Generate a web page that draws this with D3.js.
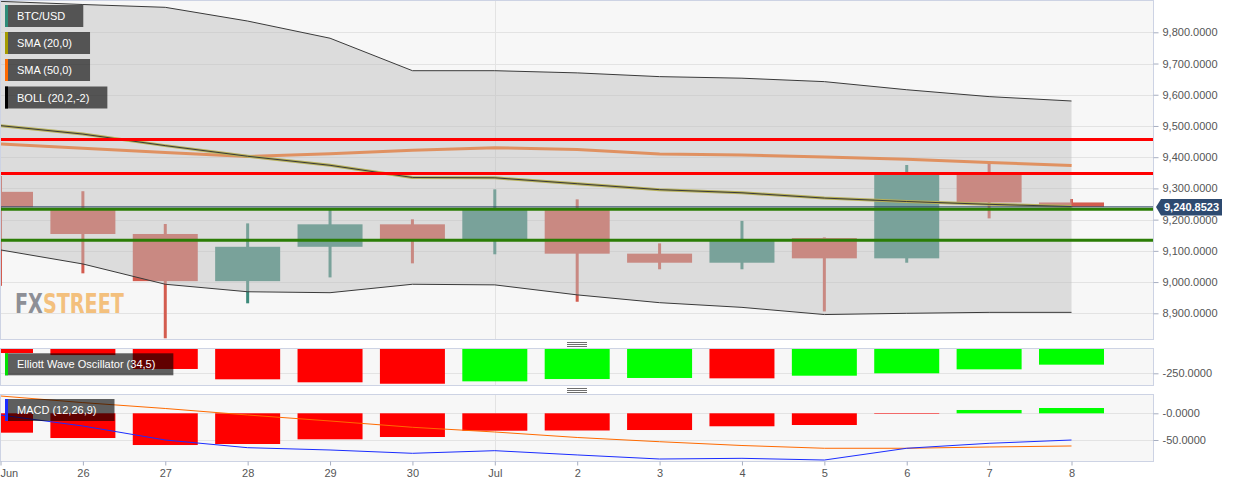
<!DOCTYPE html>
<html lang="en">
<head>
<meta charset="UTF-8">
<script src="https://d3js.org/d3.v7.min.js"></script>
<style>
  body { margin: 0; background: #fff; }
  svg text { font-family: "Liberation Sans", Arial, sans-serif; }
  .axis text { font-size: 11px; fill: #555; }
  .axis path { display: none; }
  .axis line { stroke: #a7aec0; }
  .grid line { stroke: #e3e3e3; }
</style>
<title>BTC/USD</title>
</head>
<body>
<svg width="1244" height="487"></svg>
<script>
// days on the x axis
const dayLabels = ['Jun', '26', '27', '28', '29', '30', 'Jul', '2', '3', '4', '5', '6', '7', '8'];

// daily candles
const openVals  = [9289, 9231, 9154, 9003, 9113, 9185, 9138, 9235, 9091, 9062, 9141, 9076, 9345, 9255];
const highVals  = [9340, 9291, 9186, 9188, 9237, 9201, 9297, 9265, 9124, 9196, 9143, 9375, 9382, 9266];
const lowVals   = [8988, 9028, 8820, 8932, 9015, 9060, 9089, 8937, 9041, 9041, 8906, 9062, 9204, 9240];
const closeVals = [9240, 9154, 9003, 9113, 9185, 9138, 9235, 9091, 9062, 9138, 9076, 9345, 9255, 9240.8523];

// overlays
const sma20 = [9501, 9474, 9437, 9403, 9374, 9335, 9334, 9315, 9296, 9286, 9269, 9258, 9249, 9242];
const sma50 = [9442, 9429, 9415, 9402, 9411, 9422, 9430, 9425, 9410, 9407, 9401, 9393, 9383, 9373];
const bollUpper = [9899, 9889, 9880, 9836, 9781, 9677, 9677, 9670, 9658, 9653, 9642, 9616, 9594, 9580];
const bollLower = [9103, 9058, 8993, 8969, 8966, 8993, 8991, 8959, 8934, 8919, 8896, 8900, 8903, 8903];

// horizontal levels
const resistanceLevels = [9457, 9348];
const supportLevels = [9233, 9134];
const lastPrice = 9240.8523;

// indicators
const ewo = [-81, -98, -214, -300, -325, -337, -317, -298, -289, -292, -270, -250, -217, -178];
const macdHist = [-36.3, -46.3, -59.4, -57.5, -48.7, -44.4, -32.6, -32.2, -31.3, -24.3, -21.9, -1, 6.2, 9.9];
const macdLine = [-3.2, -23.8, -50, -64.4, -68.7, -74.9, -70, -78, -85.6, -84.3, -87.5, -65.5, -56.2, -50];
const macdSignal = [32.4, 20, 9, -3.2, -14.4, -26.2, -35, -45.3, -53.2, -60.3, -65.5, -65.5, -63.1, -61.2];

// axis ticks
const mainTicks = [8900, 9000, 9100, 9200, 9300, 9400, 9500, 9600, 9700, 9800];
const ewoTicks = [-250];
const ewoTickLabels = ['-250.0000'];
const macdTicks = [0, -50];
const macdTickLabels = ['-0.0000', '-50.0000'];

const svg = d3.select('svg');
const right = 1153.5;
const panels = {
    main: { top: 0.5, bottom: 339.5 },
    ewo: { top: 348.5, bottom: 385.5 },
    macd: { top: 394.5, bottom: 461.5 }
};

const x = d3.scalePoint().domain(dayLabels).range([0.5, 1071.5]);
const yMain = d3.scaleLinear().domain([8900, 9800]).range([313.3, 32.3]);
const yEwo = d3.scaleLinear().domain([-250, 0]).range([373.3, 343.3]);
const yMacd = d3.scaleLinear().domain([-50, 0]).range([440, 413.3]);

const red = '#d35c4f', teal = '#3d8a7b';
const defs = svg.append('defs');

// panel backgrounds + clip paths
Object.entries(panels).forEach(([name, p]) => {
    svg.append('rect')
        .attr('x', 0.5).attr('y', p.top)
        .attr('width', right - 0.5).attr('height', p.bottom - p.top)
        .attr('fill', '#f7f7f7');
    defs.append('clipPath').attr('id', 'clip-' + name)
        .append('rect')
        .attr('x', 1).attr('y', p.top + 0.5)
        .attr('width', right - 1.5).attr('height', p.bottom - p.top - 1);
});

function panelGroup(name) {
    return svg.append('g').attr('clip-path', `url(#clip-${name})`);
}

// grid lines
function hGrid(g, ticks, scale) {
    g.append('g').attr('class', 'grid')
        .selectAll('line').data(ticks).enter().append('line')
        .attr('x1', 0).attr('x2', right)
        .attr('y1', d => Math.round(scale(d)) + 0.5)
        .attr('y2', d => Math.round(scale(d)) + 0.5);
}
function vGrid(g, p) {
    g.append('line')
        .attr('x1', Math.round(x('Jul')) + 0.5).attr('x2', Math.round(x('Jul')) + 0.5)
        .attr('y1', p.top).attr('y2', p.bottom)
        .attr('stroke', '#e3e3e3');
}

// ---------- main panel ----------
const gMain = panelGroup('main');
hGrid(gMain, mainTicks, yMain);
vGrid(gMain, panels.main);

// watermark: natural width text, stretched to size with a transform
const wm = gMain.append('text')
    .style('font', 'bold 22px "DejaVu Sans Condensed", sans-serif');
wm.append('tspan').attr('fill', '#8d8f96').text('FX');
wm.append('tspan').attr('fill', '#f3c07d').text('STREET');
const wmLen = wm.node().getComputedTextLength();
wm.attr('transform', `translate(15,312.5) scale(${109 / wmLen},${26 / 22})`);

const candles = dayLabels.map((d, i) => ({
    day: d, open: openVals[i], high: highVals[i], low: lowVals[i], close: closeVals[i]
}));

gMain.selectAll('.wick').data(candles).enter().append('rect')
    .attr('class', 'wick')
    .attr('x', d => x(d.day) - 1.5).attr('width', 3)
    .attr('y', d => yMain(d.high))
    .attr('height', d => yMain(d.low) - yMain(d.high))
    .attr('fill', d => d.close >= d.open ? teal : red);

gMain.selectAll('.body').data(candles).enter().append('rect')
    .attr('class', 'body')
    .attr('x', d => x(d.day) - 32.5).attr('width', 65)
    .attr('y', d => yMain(Math.max(d.open, d.close)))
    .attr('height', d => Math.max(1, Math.abs(yMain(d.open) - yMain(d.close))))
    .attr('fill', d => d.close >= d.open ? teal : red);

const lineOf = (vals, scale) => d3.line().x((v, i) => x(dayLabels[i])).y(v => scale(v))(vals);

gMain.append('path').attr('d', lineOf(sma50, yMain))
    .attr('fill', 'none').attr('stroke', '#ff6a10').attr('stroke-width', 3);
gMain.append('path').attr('d', lineOf(sma20, yMain))
    .attr('fill', 'none').attr('stroke', '#b0a400').attr('stroke-width', 3);

// bollinger band overlay
const band = d3.area()
    .x((v, i) => x(dayLabels[i]))
    .y0((v, i) => yMain(bollLower[i]))
    .y1((v, i) => yMain(bollUpper[i]));
gMain.append('path').attr('d', band(bollUpper))
    .attr('fill', 'rgb(190,190,190)').attr('fill-opacity', 0.47);
[bollUpper, bollLower, sma20].forEach(vals => {
    gMain.append('path').attr('d', lineOf(vals, yMain))
        .attr('fill', 'none').attr('stroke', '#3a3a3a').attr('stroke-width', 1);
});

// last price line
gMain.append('line')
    .attr('x1', 0).attr('x2', right)
    .attr('y1', yMain(lastPrice)).attr('y2', yMain(lastPrice))
    .attr('stroke', '#2c4468');

// support / resistance
gMain.selectAll('.res').data(resistanceLevels).enter().append('line')
    .attr('x1', 0).attr('x2', right)
    .attr('y1', d => yMain(d)).attr('y2', d => yMain(d))
    .attr('stroke', '#ff0000').attr('stroke-width', 3);
gMain.selectAll('.sup').data(supportLevels).enter().append('line')
    .attr('x1', 0).attr('x2', right)
    .attr('y1', d => yMain(d)).attr('y2', d => yMain(d))
    .attr('stroke', '#2b7d06').attr('stroke-width', 3);

// ---------- EWO panel ----------
const gEwo = panelGroup('ewo');
hGrid(gEwo, ewoTicks, yEwo);
vGrid(gEwo, panels.ewo);
gEwo.selectAll('rect.bar').data(ewo).enter().append('rect')
    .attr('class', 'bar')
    .attr('x', (v, i) => x(dayLabels[i]) - 32.5).attr('width', 65)
    .attr('y', yEwo(0))
    .attr('height', v => yEwo(v) - yEwo(0))
    .attr('fill', (v, i) => i > 0 && v >= ewo[i - 1] ? '#00ff00' : '#ff0000');

// ---------- MACD panel ----------
const gMacd = panelGroup('macd');
hGrid(gMacd, macdTicks, yMacd);
vGrid(gMacd, panels.macd);
gMacd.selectAll('rect.bar').data(macdHist).enter().append('rect')
    .attr('class', 'bar')
    .attr('x', (v, i) => x(dayLabels[i]) - 32.5).attr('width', 65)
    .attr('y', v => yMacd(Math.max(0, v)))
    .attr('height', v => Math.abs(yMacd(v) - yMacd(0)))
    .attr('fill', v => v >= 0 ? '#00ff00' : '#ff0000');
gMacd.append('path').attr('d', lineOf(macdSignal, yMacd))
    .attr('fill', 'none').attr('stroke', '#ff6a00').attr('stroke-width', 1);
gMacd.append('path').attr('d', lineOf(macdLine, yMacd))
    .attr('fill', 'none').attr('stroke', '#1a2cff').attr('stroke-width', 1);

// panel borders
Object.values(panels).forEach(p => {
    svg.append('rect')
        .attr('x', 0.5).attr('y', p.top)
        .attr('width', right - 0.5).attr('height', p.bottom - p.top)
        .attr('fill', 'none').attr('stroke', '#cdd3e4');
});

// ---------- axes ----------
svg.append('g').attr('class', 'axis')
    .attr('transform', `translate(${right},0)`)
    .call(d3.axisRight(yMain).tickValues(mainTicks).tickSize(5).tickPadding(4)
        .tickFormat(d3.format(',.4f')));
svg.append('g').attr('class', 'axis')
    .attr('transform', `translate(${right},0)`)
    .call(d3.axisRight(yEwo).tickValues(ewoTicks).tickSize(5).tickPadding(4)
        .tickFormat((d, i) => ewoTickLabels[i]));
svg.append('g').attr('class', 'axis')
    .attr('transform', `translate(${right},0)`)
    .call(d3.axisRight(yMacd).tickValues(macdTicks).tickSize(5).tickPadding(4)
        .tickFormat((d, i) => macdTickLabels[i]));

const xAxis = svg.append('g').attr('class', 'axis')
    .attr('transform', `translate(0,${panels.macd.bottom})`)
    .call(d3.axisBottom(x).tickSize(4).tickPadding(4));
xAxis.select('.tick text').attr('text-anchor', 'start').attr('x', -0.5);

// ---------- legends ----------
function legendBox(label, color, yTop) {
    const g = svg.append('g');
    const rect = g.append('rect')
        .attr('x', 5).attr('y', yTop).attr('height', 22)
        .attr('fill', 'rgba(0,0,0,0.62)');
    g.append('rect')
        .attr('x', 5).attr('y', yTop).attr('width', 3).attr('height', 22)
        .attr('fill', color);
    const t = g.append('text')
        .attr('x', 17).attr('y', yTop + 15)
        .attr('fill', '#fff').style('font-size', '11px')
        .text(label);
    rect.attr('width', t.node().getComputedTextLength() + 30);
}
legendBox('BTC/USD', '#2e8b78', 5);
legendBox('SMA (20,0)', '#a59b00', 32);
legendBox('SMA (50,0)', '#ff6a00', 59);
legendBox('BOLL (20,2,-2)', '#000', 86.5);
legendBox('Elliott Wave Oscillator (34,5)', '#00e000', 353.3);
legendBox('MACD (12,26,9)', '#1a2cff', 399);

// last price tag
const py = yMain(lastPrice);
svg.append('path')
    .attr('d', `M1156,${py} L1161,${py - 8} L1222,${py - 8} L1222,${py + 8.5} L1161,${py + 8.5} Z`)
    .attr('fill', '#2d4a70');
svg.append('text')
    .attr('x', 1164).attr('y', py + 4.5)
    .attr('fill', '#fff').style('font', 'bold 11px "Liberation Sans", Arial, sans-serif')
    .text(d3.format(',.4f')(lastPrice));

// panel resize grips
[342, 388].forEach(gy => {
    svg.append('g').selectAll('line').data([0, 2, 4]).enter().append('line')
        .attr('x1', 567).attr('x2', 587)
        .attr('y1', d => gy + d + 0.5).attr('y2', d => gy + d + 0.5)
        .attr('stroke', '#6e6e6e');
});
</script>
</body>
</html>
